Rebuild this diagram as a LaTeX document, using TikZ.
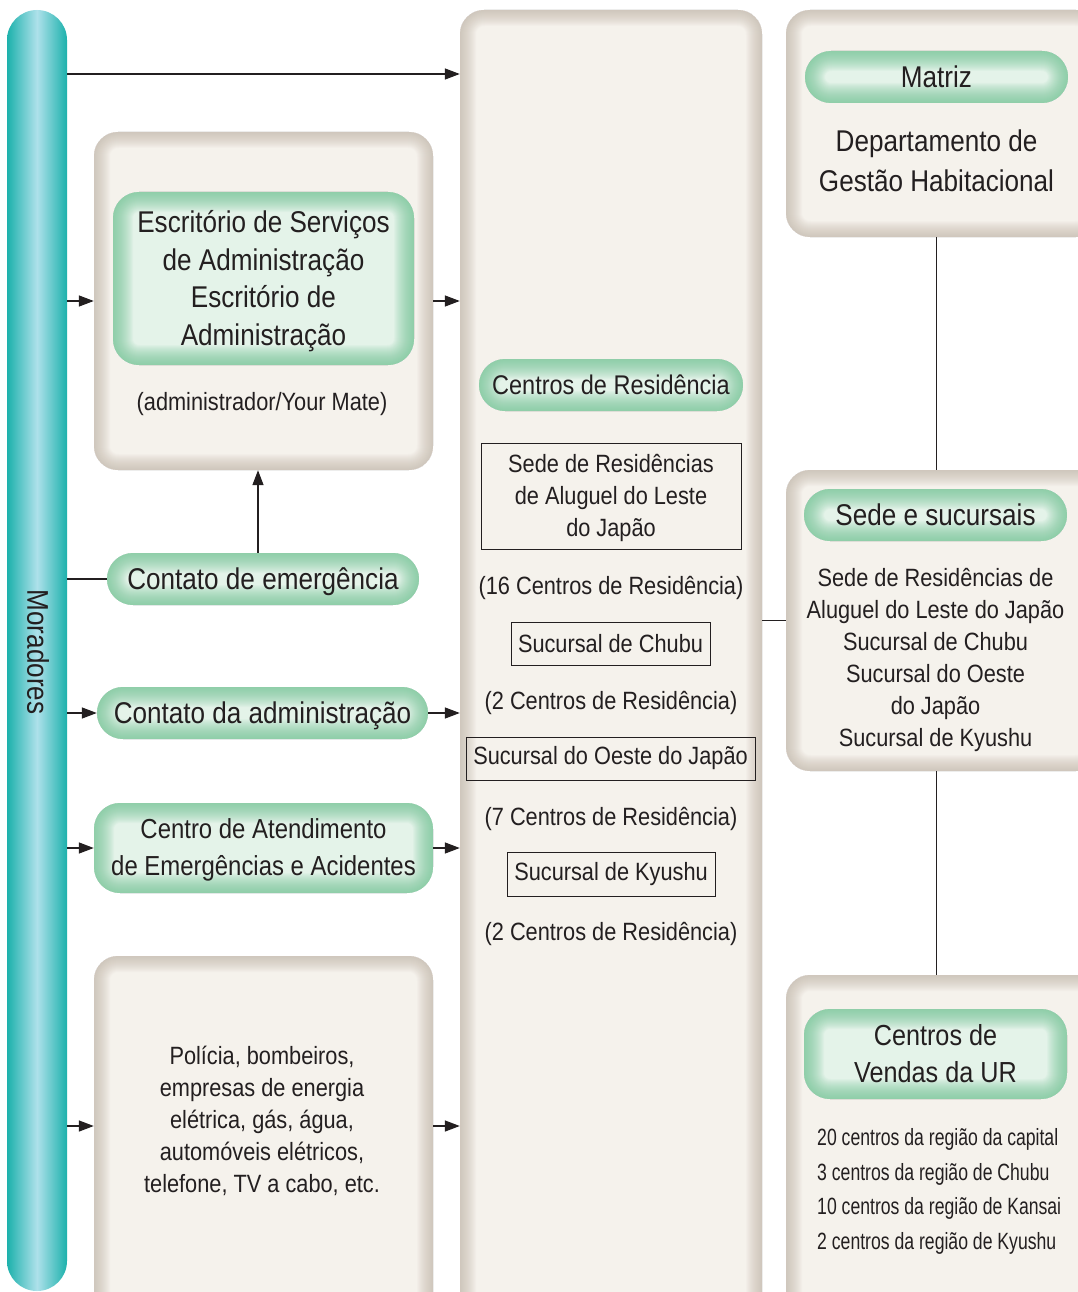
\documentclass[tikz,border=0pt]{standalone}
\usepackage{fontspec}
\setmainfont{Liberation Sans}[FakeStretch=0.87]
\newfontfamily\narrowfont{Liberation Sans}[FakeStretch=0.75]
\usetikzlibrary{arrows.meta}
\definecolor{txt}{HTML}{231F20}
\definecolor{boxfill}{HTML}{F5F2EC}
\definecolor{boxedge}{HTML}{BFB3A5}
\definecolor{pillfill}{HTML}{E4F3E9}
\definecolor{pilledge}{HTML}{74C596}
\definecolor{tealdark}{HTML}{1CB1AC}
\definecolor{teallight}{HTML}{AEE1EA}
\newcommand{\bigtxt}{\fontsize{30}{37.5}\selectfont}
\newcommand{\medtxt}{\fontsize{25}{32}\selectfont}
\tikzset{
  softbox/.style={rounded corners=24pt, fill=boxfill, inner sep=0pt,
    path picture={
      \foreach \w in {2,4,...,32}{
        \draw[boxedge,line width=\w pt,opacity=0.055,rounded corners=24pt]
          (path picture bounding box.south west) rectangle (path picture bounding box.north east);}
    }},
  pill/.style={rounded corners=#1, fill=pillfill, inner sep=0pt,
    path picture={
      \foreach \w in {2,4,...,40}{
        \draw[pilledge,line width=\w pt,opacity=0.06,rounded corners=#1]
          (path picture bounding box.south west) rectangle (path picture bounding box.north east);}
    }},
  pill/.default=26pt,
  plaintxt/.style={text=txt, align=center, inner sep=0pt, yshift=-2.5pt},
  rectbox/.style={draw=txt, line width=0.9pt, text=txt, align=center, inner sep=0pt},
  conn/.style={draw=txt, line width=1.4pt},
  arr/.style={conn, -{Triangle[length=15pt,width=11pt]}},
}
\begin{document}
\begin{tikzpicture}[x=1pt,y=-1pt]
\useasboundingbox (0,0) rectangle (1078,1292);
\clip (0,0) rectangle (1078,1292);
\fill[white] (0,0) rectangle (1078,1292);

% Moradores bar
\node[rounded corners=30pt, left color=tealdark, right color=tealdark, middle color=teallight,
      minimum width=60pt, minimum height=1281pt, inner sep=0pt] (mor) at (37,650.5) {};
\node[text=txt, inner sep=0pt, rotate=-90, font=\fontsize{30}{36}\selectfont] (mortxt) at (38,652) {Moradores};

% main boxes
\node[softbox, minimum width=302pt, minimum height=1310pt] (col) at (611,665) {};
\node[softbox, minimum width=339pt, minimum height=338pt] (escbox) at (263.5,301) {};
\node[softbox, minimum width=339pt, minimum height=364pt] (polbox) at (263.5,1138) {};
\node[softbox, minimum width=314pt, minimum height=227pt] (matbox) at (943,123.5) {};
\node[softbox, minimum width=314pt, minimum height=301pt] (sedebox) at (943,620.5) {};
\node[softbox, minimum width=314pt, minimum height=345pt] (venbox) at (943,1147.5) {};

% left column
\node[pill=26pt, minimum width=301pt, minimum height=173pt] (escpill) at (263.5,278.5) {};
\node[plaintxt, font=\bigtxt] (esctxt) at (escpill) {Escritório de Serviços\\de Administração\\Escritório de\\Administração};
\node[plaintxt, font=\medtxt] (admtxt) at (262,402) {(administrador/Your Mate)};
\node[pill=26pt, minimum width=312pt, minimum height=52pt] (emg) at (263,579) {};
\node[plaintxt, font=\bigtxt] (emgtxt) at (emg) {Contato de emergência};
\node[pill=26pt, minimum width=331pt, minimum height=52pt] (adm) at (262.5,713) {};
\node[plaintxt, font=\bigtxt] (admintxt) at (adm) {Contato da administração};
\node[pill=26pt, minimum width=339pt, minimum height=90pt] (cat) at (263.5,848) {};
\node[plaintxt, font=\fontsize{27.5}{37}\selectfont, yshift=1pt] (cattxt) at (cat) {Centro de Atendimento\\de Emergências e Acidentes};
\node[plaintxt, font=\medtxt, yshift=1.5pt] (poltxt) at (262,1120) {Polícia, bombeiros,\\empresas de energia\\elétrica, gás, água,\\automóveis elétricos,\\telefone, TV a cabo, etc.};

% middle column
\node[pill=26pt, minimum width=264pt, minimum height=52pt] (cres) at (611,385) {};
\node[plaintxt, font=\fontsize{27}{33}\selectfont, yshift=2.5pt] (crestxt) at (cres) {Centros de Residência};
\node[rectbox, minimum width=260pt, minimum height=106pt] (leste) at (611,496) {};
\node[plaintxt, font=\medtxt, yshift=1pt] (lestetxt) at (leste) {Sede de Residências\\de Aluguel do Leste\\do Japão};
\node[plaintxt, font=\medtxt, yshift=1pt] (n16) at (611,586) {(16 Centros de Residência)};
\node[rectbox, minimum width=199pt, minimum height=43pt, font=\medtxt] (chubu) at (610.5,643.5) {Sucursal de Chubu};
\node[plaintxt, font=\medtxt, yshift=1pt] (n2a) at (611,701) {(2 Centros de Residência)};
\node[rectbox, minimum width=289pt, minimum height=43pt, font=\medtxt] (oeste) at (610.5,758.5) {Sucursal do Oeste do Japão};
\node[plaintxt, font=\medtxt, yshift=1pt] (n7) at (611,817) {(7 Centros de Residência)};
\node[rectbox, minimum width=208pt, minimum height=44pt, font=\medtxt] (kyu) at (611,874) {Sucursal de Kyushu};
\node[plaintxt, font=\medtxt, yshift=1pt] (n2b) at (611,932) {(2 Centros de Residência)};

% right column
\node[pill=26pt, minimum width=263pt, minimum height=52pt] (matpill) at (936.5,77) {};
\node[plaintxt, font=\bigtxt, yshift=2.5pt] (mattxt) at (matpill) {Matriz};
\node[text=txt, align=center, inner sep=0pt, font=\fontsize{30}{40}\selectfont] (dept) at (936.5,161) {Departamento de\\Gestão Habitacional};
\node[pill=26pt, minimum width=263pt, minimum height=52pt] (sedepill) at (935.5,515) {};
\node[plaintxt, font=\bigtxt, yshift=2.5pt] (sedeptxt) at (sedepill) {Sede e sucursais};
\node[plaintxt, font=\medtxt, yshift=1pt] (sedetxt) at (935.5,658) {Sede de Residências de\\Aluguel do Leste do Japão\\Sucursal de Chubu\\Sucursal do Oeste\\do Japão\\Sucursal de Kyushu};
\node[pill=26pt, minimum width=263pt, minimum height=90pt] (venpill) at (935.5,1054) {};
\node[plaintxt, font=\fontsize{29}{37}\selectfont, yshift=2.5pt] (venptxt) at (venpill) {Centros de\\Vendas da UR};
\node[plaintxt, align=left, anchor=west, font=\narrowfont\fontsize{23.5}{34.5}\selectfont, yshift=1pt] (ventxt) at (817,1190) {20 centros da região da capital\\3 centros da região de Chubu\\10 centros da região de Kansai\\2 centros da região de Kyushu};

% connectors
\coordinate (ytop) at (0,74);
\coordinate (ypol) at (0,1126);
\draw[arr] (mor.east |- ytop) -- (col.west |- ytop);
\draw[arr] (mor.east |- escbox.west) -- (escbox.west);
\draw[arr] (escbox.east) -- (col.west |- escbox.east);
\draw[conn] (mor.east |- emg.west) -- (emg.west);
\draw[arr] ([xshift=-5pt]emg.north) -- ([xshift=-5pt]emg.north |- escbox.south);
\draw[arr] (mor.east |- adm.west) -- (adm.west);
\draw[arr] (adm.east) -- (col.west |- adm.east);
\draw[arr] (mor.east |- cat.west) -- (cat.west);
\draw[arr] (cat.east) -- (col.west |- cat.east);
\draw[arr] (mor.east |- ypol) -- (polbox.west |- ypol);
\draw[arr] (polbox.east |- ypol) -- (col.west |- ypol);
\draw[conn] (matbox.south -| matpill) -- (sedebox.north -| matpill);
\draw[conn] (sedebox.west -| col.east) -- (sedebox.west);
\draw[conn] (sedebox.south -| matpill) -- (venbox.north -| matpill);
\end{tikzpicture}
\end{document}
